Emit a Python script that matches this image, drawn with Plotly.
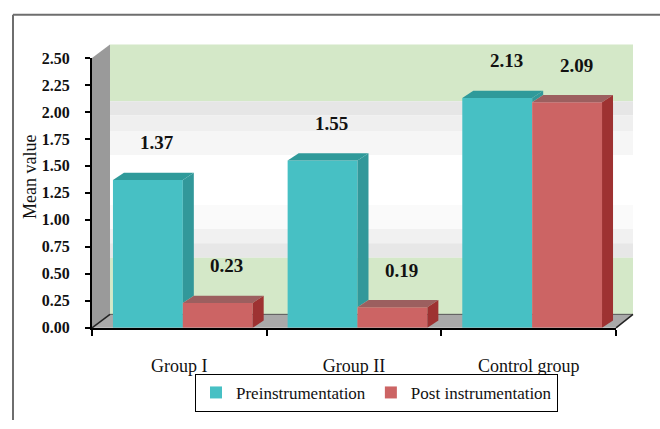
import plotly.graph_objects as go

# ---- data ----
categories = ["Group I", "Group II", "Control group"]
pre_values = [1.37, 1.55, 2.13]
post_values = [0.23, 0.19, 2.09]
series_names = ["Preinstrumentation", "Post instrumentation"]
y_ticks = [0, 0.25, 0.5, 0.75, 1.0, 1.25, 1.5, 1.75, 2.0, 2.25, 2.5]

# ---- geometry / style ----
W, H = 660, 429
AX_X0, AX_X1 = 92, 616      # x-axis pixel extent
AX_Y0, AX_Y1 = 333, 52      # y pixel of 0 and 2.5
X_RANGE = [-0.5, 2.5]
Y_RANGE = [0, 2.5]
px_per_x = (AX_X1 - AX_X0) / (X_RANGE[1] - X_RANGE[0])
px_per_y = (AX_Y0 - AX_Y1) / (Y_RANGE[1] - Y_RANGE[0])

BAR_W = 0.40
PRE_OFF = -0.38
POST_OFF = 0.02
DX = 11 / px_per_x
DY = 7.5 / px_per_y

TEAL, TEAL_TOP, TEAL_SIDE = "#47C0C4", "#2F9A9A", "#32989A"
RED, RED_TOP, RED_SIDE = "#CC6464", "#9C5F5F", "#9E3232"
FONT = "Liberation Serif"


def px(x):
    return x / W


def py(y):
    return 1 - y / H


fig = go.Figure()

# front faces
fig.add_trace(go.Bar(x=list(range(len(categories))), y=pre_values, name=series_names[0],
                     width=BAR_W, offset=PRE_OFF, marker=dict(color=TEAL, line=dict(width=0))))
fig.add_trace(go.Bar(x=list(range(len(categories))), y=post_values, name=series_names[1],
                     width=BAR_W, offset=POST_OFF, marker=dict(color=RED, line=dict(width=0))))


def poly(xs, ys, color):
    fig.add_trace(go.Scatter(x=xs + [xs[0]], y=ys + [ys[0]], mode="lines", fill="toself",
                             fillcolor=color, line=dict(width=0, color=color),
                             showlegend=False, hoverinfo="skip"))


for i, (vp, vq) in enumerate(zip(pre_values, post_values)):
    a0 = i + PRE_OFF
    a1 = a0 + BAR_W
    b0 = i + POST_OFF
    b1 = b0 + BAR_W
    low = min(vq, vp)
    poly([a1, a1, a1 + DX, a1 + DX], [low, vp, vp + DY, low + DY], TEAL_SIDE)
    poly([b0, b1, b1 + DX, b0 + DX], [vq, vq, vq + DY, vq + DY], RED_TOP)
    poly([b1, b1, b1 + DX, b1 + DX], [0, vq, vq + DY, DY], RED_SIDE)
    poly([a0, a1, a1 + DX, a0 + DX], [vp, vp, vp + DY, vp + DY], TEAL_TOP)

# value labels
annotations = []
for i, (vp, vq) in enumerate(zip(pre_values, post_values)):
    for v, off in ((vp, PRE_OFF), (vq, POST_OFF)):
        annotations.append(dict(x=i + off + BAR_W / 2, y=v, xref="x", yref="y",
                                text=f"<b>{v:.2f}</b>", showarrow=False,
                                xshift=9, yshift=37,
                                font=dict(family=FONT, size=19, color="#111111")))

annotations.append(dict(x=px(18), y=py(176), xref="paper", yref="paper", text="Mean value",
                        textangle=-90, showarrow=False,
                        font=dict(family=FONT, size=18, color="#111111")))

# decorative 3D walls / background
shapes = []
WALL_L, WALL_R, WALL_T, WALL_B = 110, 633, 38, 319


def rect(x0, y0, x1, y1, color):
    shapes.append(dict(type="rect", xref="paper", yref="paper", x0=px(x0), x1=px(x1),
                       y0=py(y1), y1=py(y0), fillcolor=color, line=dict(width=0), layer="below"))


def path(pts, color, line_color=None, lw=0):
    d = "M " + " L ".join(f"{px(a)},{py(b)}" for a, b in pts) + " Z"
    shapes.append(dict(type="path", xref="paper", yref="paper", path=d, fillcolor=color,
                       line=dict(width=lw, color=line_color or color), layer="below"))


bands = [
    (38, 97, "#D4E8C8"), (97, 112, "#E6E6E6"), (112, 128, "#EFEFEF"), (128, 153, "#F6F6F6"),
    (153, 205, "#FFFFFF"), (205, 230, "#FAFAFA"), (230, 245, "#F1F1F1"), (245, 260, "#E7E7E7"),
    (260, 319, "#D4E8C8"),
]
for y0, y1, c in bands:
    rect(WALL_L, y0, WALL_R, y1, c)

path([(92, 52), (110, 38), (110, 319), (92, 333)], "#9A9A9A")
path([(92, 333), (110, 319), (633, 319), (616, 333)], "#A9A9A9")
shapes.append(dict(type="line", xref="paper", yref="paper", x0=px(92), y0=py(333), x1=px(110), y1=py(319),
                   line=dict(color="#222222", width=1.5)))
shapes.append(dict(type="line", xref="paper", yref="paper", x0=px(616), y0=py(333), x1=px(633), y1=py(319),
                   line=dict(color="#222222", width=1.5)))
shapes.append(dict(type="line", xref="paper", yref="paper", x0=px(110), y0=py(319), x1=px(633), y1=py(319),
                   line=dict(color="#555555", width=1), layer="below"))
shapes.append(dict(type="line", xref="paper", yref="paper", x0=px(13), y0=py(7), x1=1, y1=py(7),
                   line=dict(color="#6E6E6E", width=2)))
shapes.append(dict(type="line", xref="paper", yref="paper", x0=px(13), y0=py(7), x1=px(13), y1=0,
                   line=dict(color="#6E6E6E", width=2)))

fig.update_layout(
    width=W, height=H,
    margin=dict(l=0, r=0, t=0, b=0),
    paper_bgcolor="white", plot_bgcolor="rgba(0,0,0,0)",
    barmode="overlay",
    showlegend=True,
    legend=dict(orientation="h", x=px(195), y=py(381), xanchor="left", yanchor="top",
                bordercolor="black", borderwidth=1, bgcolor="white",
                font=dict(family=FONT, size=17, color="#111111"),
                itemwidth=30, tracegroupgap=0),
    xaxis=dict(domain=[px(AX_X0), px(AX_X1)], range=X_RANGE, tickmode="array",
               tickvals=list(range(len(categories))), ticktext=categories, ticks="",
               showline=True, linecolor="black", linewidth=1.5, showgrid=False, zeroline=False,
               tickfont=dict(family=FONT, size=18, color="#111111"), ticklabelstandoff=21,
               minor=dict(ticks="outside", ticklen=6, tickwidth=1.5, tickcolor="black",
                          tick0=-0.5, dtick=1, showgrid=False)),
    yaxis=dict(domain=[py(AX_Y0), py(AX_Y1)], range=Y_RANGE, tickmode="array",
               tickvals=y_ticks, tickformat=".2f", ticks="outside", ticklen=5, tickwidth=1.5,
               tickcolor="black", showline=True, linecolor="black", linewidth=2,
               showgrid=False, zeroline=False, ticklabelstandoff=12,
               tickfont=dict(family=FONT, size=16, color="#111111", weight="bold")),
    shapes=shapes,
    annotations=annotations,
)

fig.write_html("out.html")
